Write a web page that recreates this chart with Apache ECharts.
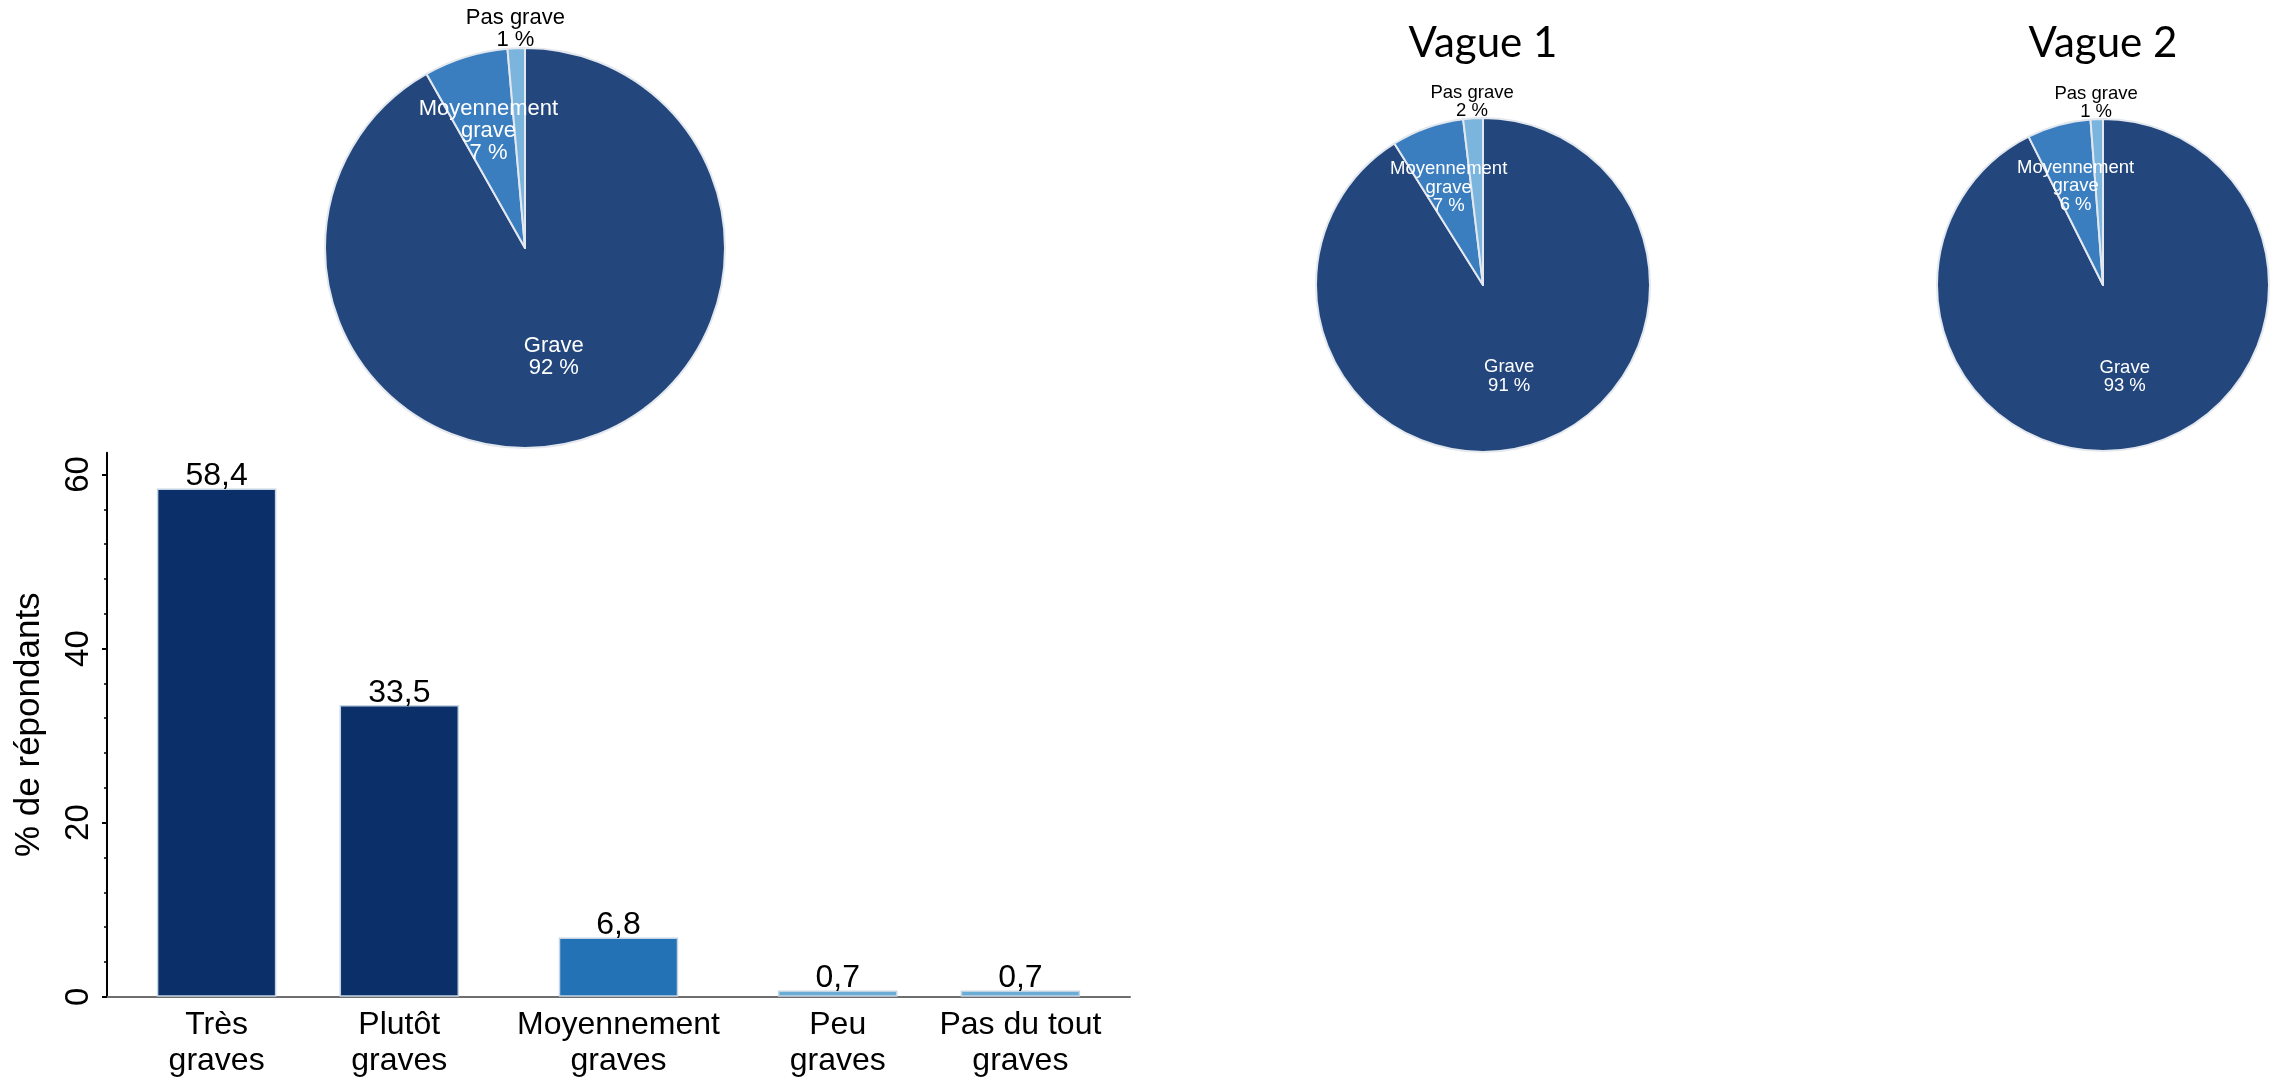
<!DOCTYPE html>
<html><head><meta charset="utf-8">
<script src="https://cdn.jsdelivr.net/npm/echarts@6/dist/echarts.min.js"></script>
<style>html,body{margin:0;padding:0;background:#fff}#c{width:2280px;height:1079px}</style>
</head><body><div id="c"></div>
<script>
// ---------- DATA ----------
const barCategories = ['Très\ngraves', 'Plutôt\ngraves', 'Moyennement\ngraves', 'Peu\ngraves', 'Pas du tout\ngraves'];
const barValues = [58.4, 33.5, 6.8, 0.7, 0.7];
const barGroups = [0, 0, 1, 2, 2];
const yTicks = [0, 20, 40, 60];
const yAxisTitle = '% de répondants';

const pieNames = ['Grave', 'Moyennement\ngrave', 'Pas grave'];
const pieOverall = [91.9, 6.8, 1.4];
const pieVague1 = [91.1, 7.0, 1.9];
const pieVague2 = [92.6, 6.2, 1.2];
const pieTitles = ['Vague 1', 'Vague 2'];

// ---------- STYLE / LAYOUT ----------
const FONT = '"Liberation Sans", Arial, sans-serif';
const groupColors = ['#0b2f68', '#2372b5', '#6aaed6'];
const pieColors = ['#23467c', '#3a7ebf', '#7bb4dd'];
const labelRadial = [0.55, 0.60, 1.08];

// slot layout for bars: gaps of 5 units inside a group, 6 between groups
const slots = [];
barValues.forEach((v, i) => {
  slots.push(i === 0 ? 3 : slots[i - 1] + (barGroups[i] === barGroups[i - 1] ? 5 : 6));
});
const nSlots = slots[slots.length - 1] + 4;
const xData = new Array(nSlots).fill('');
const barData = new Array(nSlots).fill('-');
slots.forEach((s, i) => {
  xData[s] = barCategories[i];
  barData[s] = { value: barValues[i], itemStyle: { color: groupColors[barGroups[i]] } };
});
const minorTicks = [];
for (let v = yTicks[0]; v <= yTicks[yTicks.length - 1]; v += 4) if (yTicks.indexOf(v) < 0) minorTicks.push(v);

function radialLayout(vals, R) {
  const total = vals.reduce((a, b) => a + b, 0);
  return function (p) {
    const i = p.dataIndex;
    let cum = 0;
    for (let j = 0; j < i; j++) cum += vals[j];
    const a = (cum + vals[i] / 2) / total * 2 * Math.PI;
    const s = (labelRadial[i] - 0.5) * R;
    return { dx: Math.sin(a) * s, dy: -Math.cos(a) * s };
  };
}

function pieSeries(vals, center, R, fs) {
  return {
    type: 'pie', center: center, radius: R, startAngle: 90, clockwise: true,
    silent: true, emphasis: { disabled: true }, animation: false,
    itemStyle: { borderColor: '#e3e8ef', borderWidth: 2 },
    label: {
      show: true, position: 'inside', color: '#fff', fontFamily: FONT,
      fontSize: fs, lineHeight: fs, align: 'center',
      formatter: p => p.name + '\n' + Math.round(p.value) + ' %'
    },
    labelLine: { show: false },
    labelLayout: radialLayout(vals, R),
    data: pieNames.map((n, i) => ({
      name: n, value: vals[i],
      itemStyle: { color: pieColors[i] },
      label: i === 2 ? { color: '#000' } : undefined
    }))
  };
}

const chart = echarts.init(document.getElementById('c'), null, { renderer: 'canvas' });
chart.setOption({
  animation: false,
  backgroundColor: '#fff',
  title: pieTitles.map((t, i) => ({
    text: t, left: [1483, 2103][i], top: 22, textAlign: 'center', padding: 0,
    textStyle: { fontFamily: 'Lato', fontSize: 42, fontWeight: 'normal', color: '#000' }
  })),
  grid: { left: 107, top: 452.7, width: 1023, height: 544, containLabel: false, outerBoundsMode: 'none' },
  xAxis: {
    type: 'category', data: xData, boundaryGap: false,
    axisLine: { show: true, lineStyle: { color: '#6e6e6e', width: 2 } },
    axisTick: { show: false },
    axisLabel: { interval: 0, color: '#000', fontFamily: FONT, fontSize: 32, lineHeight: 36, margin: 10, align: 'center' },
    splitLine: { show: false }
  },
  yAxis: [{
    type: 'value', min: 0, max: 62.5, interval: 20,
    axisLine: { show: true, lineStyle: { color: '#000', width: 2 } },
    axisTick: { show: true, length: 5, customValues: yTicks, lineStyle: { color: '#000', width: 2 } },
    minorTick: { show: false },
    axisLabel: { customValues: yTicks, rotate: 90, color: '#000', fontFamily: FONT, fontSize: 33, margin: 12 },
    splitLine: { show: false },
    name: yAxisTitle, nameLocation: 'middle', nameGap: 60,
    nameTextStyle: { color: '#000', fontFamily: FONT, fontSize: 35 }
  }, {
    type: 'value', min: 0, max: 62.5, position: 'left', offset: 0,
    axisLine: { show: false },
    axisTick: { show: true, length: 3, customValues: minorTicks, lineStyle: { color: '#000', width: 1.5 } },
    axisLabel: { show: false }, splitLine: { show: false }
  }],
  series: [
    {
      type: 'bar', data: barData, barWidth: 119.5, silent: true, animation: false,
      itemStyle: { borderColor: '#c5d3e3', borderWidth: 1.5 },
      label: {
        show: true, position: 'top', distance: -4, color: '#000', fontFamily: FONT, fontSize: 32,
        formatter: p => Number(p.value).toFixed(1).replace('.', ',')
      }
    },
    pieSeries(pieOverall, [525, 248], 200, 22),
    pieSeries(pieVague1, [1483, 285], 167, 18.5),
    pieSeries(pieVague2, [2103, 285], 166, 18.5)
  ]
});
</script></body></html>
